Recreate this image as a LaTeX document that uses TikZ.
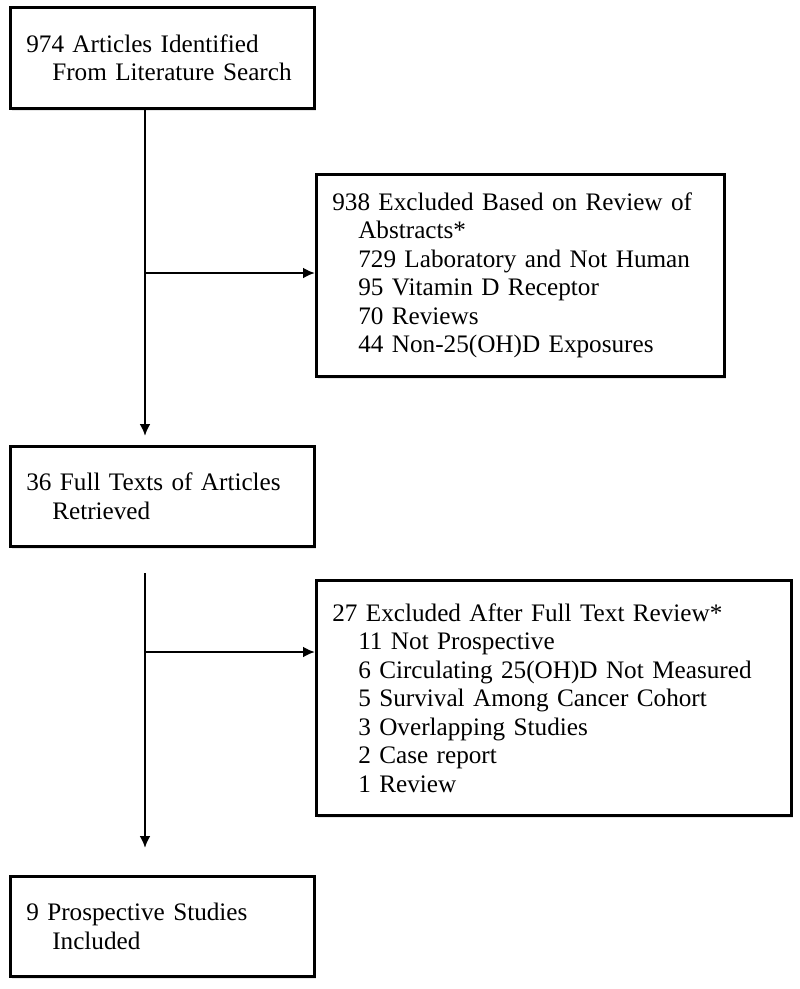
\documentclass[tikz,border=0pt]{standalone}
\usepackage{fontspec}
\setmainfont{Liberation Serif}
\usetikzlibrary{arrows.meta,shadows}
\tikzset{
  stage/.style = {shape=rectangle, draw, line width=2.6pt, fill=white,
                  anchor=north west, align=left,
                  inner xsep=16pt, inner ysep=0pt,
                  drop shadow={shadow xshift=2pt, shadow yshift=-3pt, opacity=0.2},
                  font=\fontsize{25.2}{28.5}\selectfont},
  flow/.style  = {line width=2.6pt, -{Latex[length=12pt,width=11pt]}}
}
\newcommand{\ind}{\hspace*{26pt}}

\begin{document}
\begin{tikzpicture}[x=1pt,y=-1pt]
  \useasboundingbox (0,0) rectangle (800,989);

  % left column
  \node[stage, minimum width=304pt, minimum height=101pt, text width=272pt]
    (search) at (9,6)
    {974 Articles Identified\\ \ind From Literature Search};
  \node[stage, minimum width=304pt, minimum height=100pt, text width=272pt]
    (fulltext) at (9,445)
    {36 Full Texts of Articles\\ \ind Retrieved};
  \node[stage, minimum width=304pt, minimum height=100pt, text width=272pt]
    (included) at (9,875)
    {9 Prospective Studies\\ \ind Included};

  % exclusions
  \node[stage, minimum width=408pt, minimum height=202pt, text width=376pt]
    (abstracts) at (315,173)
    {938 Excluded Based on Review of\\
     \ind Abstracts*\\
     \ind 729 Laboratory and Not Human\\
     \ind 95 Vitamin D Receptor\\
     \ind 70 Reviews\\
     \ind 44 Non-25(OH)D Exposures};
  \node[stage, minimum width=475pt, minimum height=235pt, text width=443pt]
    (fullrev) at (315,579)
    {27 Excluded After Full Text Review*\\
     \ind 11 Not Prospective\\
     \ind 6 Circulating 25(OH)D Not Measured\\
     \ind 5 Survival Among Cancer Cohort\\
     \ind 3 Overlapping Studies\\
     \ind 2 Case report\\
     \ind 1 Review};

  \coordinate (trunk1) at (145,273);
  \coordinate (trunk2top) at (145,573);
  \coordinate (trunk2) at (145,652);

  \draw[flow, shorten >=9pt] (search.south -| trunk1) -- (fulltext.north -| trunk1);
  \draw[flow] (trunk1) -- (abstracts.west |- trunk1);
  \draw[flow, shorten >=27pt] (trunk2top) -- (included.north -| trunk2top);
  \draw[flow] (trunk2) -- (fullrev.west |- trunk2);

\end{tikzpicture}
\end{document}
